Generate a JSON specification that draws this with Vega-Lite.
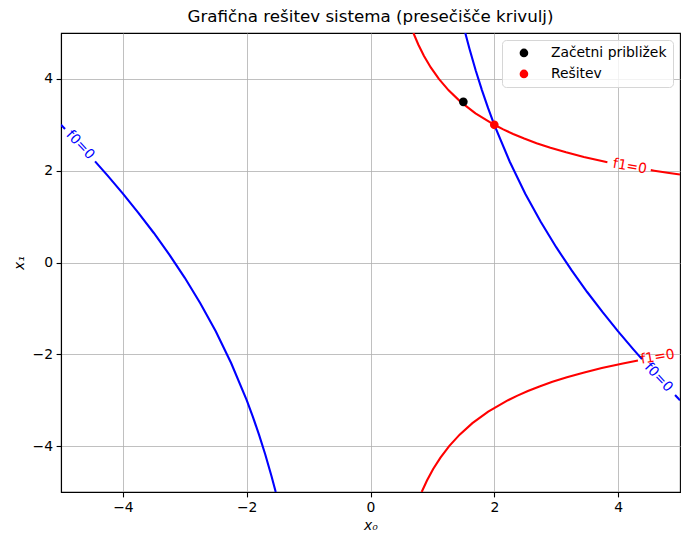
{
  "$schema": "https://vega.github.io/schema/vega-lite/v6.json",
  "width": 619,
  "height": 459,
  "autosize": {"type": "none"},
  "padding": {"left": 61, "top": 33, "right": 10, "bottom": 56},
  "background": "white",
  "config": {
    "font": "DejaVu Sans",
    "view": {"stroke": "black", "strokeWidth": 1.1},
    "axis": {
      "grid": true,
      "gridColor": "#b0b0b0",
      "gridWidth": 0.8,
      "domainColor": "black",
      "domainWidth": 1.1,
      "tickColor": "black",
      "tickWidth": 1.1,
      "tickSize": 4.9,
      "labelFont": "DejaVu Sans",
      "labelFontSize": 13.9,
      "labelColor": "black",
      "labelPadding": 3.5,
      "titleFont": "DejaVu Sans",
      "titleFontSize": 13.9,
      "titleFontWeight": "normal",
      "titleFontStyle": "italic",
      "titleColor": "black"
    }
  },
  "title": {
    "text": "Grafična rešitev sistema (presečišče krivulj)",
    "font": "DejaVu Sans",
    "fontSize": 16.7,
    "fontWeight": "normal",
    "color": "black",
    "offset": 7
  },
  "datasets": {
    "curves": [
      {"curve": "f0", "seg": "f0a1", "i": 0, "x0": -5, "x1": 3},
      {"curve": "f0", "seg": "f0a1", "i": 1, "x0": -4.935, "x1": 2.9087},
      {"curve": "f0", "seg": "f0a2", "i": 0, "x0": -4.45, "x1": 2.2028},
      {"curve": "f0", "seg": "f0a2", "i": 1, "x0": -4.25, "x1": 1.8971},
      {"curve": "f0", "seg": "f0a2", "i": 2, "x0": -4, "x1": 1.5},
      {"curve": "f0", "seg": "f0a2", "i": 3, "x0": -3.75, "x1": 1.0833},
      {"curve": "f0", "seg": "f0a2", "i": 4, "x0": -3.5, "x1": 0.6429},
      {"curve": "f0", "seg": "f0a2", "i": 5, "x0": -3.25, "x1": 0.1731},
      {"curve": "f0", "seg": "f0a2", "i": 6, "x0": -3, "x1": -0.3333},
      {"curve": "f0", "seg": "f0a2", "i": 7, "x0": -2.75, "x1": -0.8864},
      {"curve": "f0", "seg": "f0a2", "i": 8, "x0": -2.5, "x1": -1.5},
      {"curve": "f0", "seg": "f0a2", "i": 9, "x0": -2.25, "x1": -2.1944},
      {"curve": "f0", "seg": "f0a2", "i": 10, "x0": -2, "x1": -3},
      {"curve": "f0", "seg": "f0a2", "i": 11, "x0": -1.9, "x1": -3.3632},
      {"curve": "f0", "seg": "f0a2", "i": 12, "x0": -1.8, "x1": -3.7556},
      {"curve": "f0", "seg": "f0a2", "i": 13, "x0": -1.7, "x1": -4.1824},
      {"curve": "f0", "seg": "f0a2", "i": 14, "x0": -1.6, "x1": -4.65},
      {"curve": "f0", "seg": "f0a2", "i": 15, "x0": -1.531, "x1": -5.0},
      {"curve": "f0", "seg": "f0b1", "i": 0, "x0": 1.531, "x1": 5.0},
      {"curve": "f0", "seg": "f0b1", "i": 1, "x0": 1.6, "x1": 4.65},
      {"curve": "f0", "seg": "f0b1", "i": 2, "x0": 1.7, "x1": 4.1824},
      {"curve": "f0", "seg": "f0b1", "i": 3, "x0": 1.8, "x1": 3.7556},
      {"curve": "f0", "seg": "f0b1", "i": 4, "x0": 1.9, "x1": 3.3632},
      {"curve": "f0", "seg": "f0b1", "i": 5, "x0": 2, "x1": 3},
      {"curve": "f0", "seg": "f0b1", "i": 6, "x0": 2.25, "x1": 2.1944},
      {"curve": "f0", "seg": "f0b1", "i": 7, "x0": 2.5, "x1": 1.5},
      {"curve": "f0", "seg": "f0b1", "i": 8, "x0": 2.75, "x1": 0.8864},
      {"curve": "f0", "seg": "f0b1", "i": 9, "x0": 3, "x1": 0.3333},
      {"curve": "f0", "seg": "f0b1", "i": 10, "x0": 3.25, "x1": -0.1731},
      {"curve": "f0", "seg": "f0b1", "i": 11, "x0": 3.5, "x1": -0.6429},
      {"curve": "f0", "seg": "f0b1", "i": 12, "x0": 3.75, "x1": -1.0833},
      {"curve": "f0", "seg": "f0b1", "i": 13, "x0": 4, "x1": -1.5},
      {"curve": "f0", "seg": "f0b1", "i": 14, "x0": 4.25, "x1": -1.8971},
      {"curve": "f0", "seg": "f0b1", "i": 15, "x0": 4.386, "x1": -2.106},
      {"curve": "f0", "seg": "f0b2", "i": 0, "x0": 4.92, "x1": -2.8875},
      {"curve": "f0", "seg": "f0b2", "i": 1, "x0": 5, "x1": -3},
      {"curve": "f1", "seg": "f1a1", "i": 0, "x0": 0.6933, "x1": 5},
      {"curve": "f1", "seg": "f1a1", "i": 1, "x0": 0.7719, "x1": 4.75},
      {"curve": "f1", "seg": "f1a1", "i": 2, "x0": 0.8642, "x1": 4.5},
      {"curve": "f1", "seg": "f1a1", "i": 3, "x0": 0.9735, "x1": 4.25},
      {"curve": "f1", "seg": "f1a1", "i": 4, "x0": 1.1042, "x1": 4},
      {"curve": "f1", "seg": "f1a1", "i": 5, "x0": 1.2622, "x1": 3.75},
      {"curve": "f1", "seg": "f1a1", "i": 6, "x0": 1.4558, "x1": 3.5},
      {"curve": "f1", "seg": "f1a1", "i": 7, "x0": 1.6963, "x1": 3.25},
      {"curve": "f1", "seg": "f1a1", "i": 8, "x0": 2, "x1": 3},
      {"curve": "f1", "seg": "f1a1", "i": 9, "x0": 2.1443, "x1": 2.9},
      {"curve": "f1", "seg": "f1a1", "i": 10, "x0": 2.3044, "x1": 2.8},
      {"curve": "f1", "seg": "f1a1", "i": 11, "x0": 2.4829, "x1": 2.7},
      {"curve": "f1", "seg": "f1a1", "i": 12, "x0": 2.6824, "x1": 2.6},
      {"curve": "f1", "seg": "f1a1", "i": 13, "x0": 2.9067, "x1": 2.5},
      {"curve": "f1", "seg": "f1a1", "i": 14, "x0": 3.1597, "x1": 2.4},
      {"curve": "f1", "seg": "f1a1", "i": 15, "x0": 3.4468, "x1": 2.3},
      {"curve": "f1", "seg": "f1a1", "i": 16, "x0": 3.7741, "x1": 2.2},
      {"curve": "f1", "seg": "f1a1", "i": 17, "x0": 3.827, "x1": 2.185},
      {"curve": "f1", "seg": "f1a2", "i": 0, "x0": 4.528, "x1": 2.012},
      {"curve": "f1", "seg": "f1a2", "i": 1, "x0": 4.5833, "x1": 2.0},
      {"curve": "f1", "seg": "f1a2", "i": 2, "x0": 4.8258, "x1": 1.95},
      {"curve": "f1", "seg": "f1a2", "i": 3, "x0": 5.0, "x1": 1.916},
      {"curve": "f1", "seg": "f1b", "i": 0, "x0": 0.8267, "x1": -5},
      {"curve": "f1", "seg": "f1b", "i": 1, "x0": 0.9123, "x1": -4.75},
      {"curve": "f1", "seg": "f1b", "i": 2, "x0": 1.0123, "x1": -4.5},
      {"curve": "f1", "seg": "f1b", "i": 3, "x0": 1.1303, "x1": -4.25},
      {"curve": "f1", "seg": "f1b", "i": 4, "x0": 1.2708, "x1": -4},
      {"curve": "f1", "seg": "f1b", "i": 5, "x0": 1.44, "x1": -3.75},
      {"curve": "f1", "seg": "f1b", "i": 6, "x0": 1.6463, "x1": -3.5},
      {"curve": "f1", "seg": "f1b", "i": 7, "x0": 1.9014, "x1": -3.25},
      {"curve": "f1", "seg": "f1b", "i": 8, "x0": 2.2222, "x1": -3},
      {"curve": "f1", "seg": "f1b", "i": 9, "x0": 2.3742, "x1": -2.9},
      {"curve": "f1", "seg": "f1b", "i": 10, "x0": 2.5425, "x1": -2.8},
      {"curve": "f1", "seg": "f1b", "i": 11, "x0": 2.7298, "x1": -2.7},
      {"curve": "f1", "seg": "f1b", "i": 12, "x0": 2.9389, "x1": -2.6},
      {"curve": "f1", "seg": "f1b", "i": 13, "x0": 3.1733, "x1": -2.5},
      {"curve": "f1", "seg": "f1b", "i": 14, "x0": 3.4375, "x1": -2.4},
      {"curve": "f1", "seg": "f1b", "i": 15, "x0": 3.7366, "x1": -2.3},
      {"curve": "f1", "seg": "f1b", "i": 16, "x0": 4.0771, "x1": -2.2},
      {"curve": "f1", "seg": "f1b", "i": 17, "x0": 4.3205, "x1": -2.136}
    ],
    "labels": [
      {"curve": "f0", "pos": "a", "x0": -4.69, "x1": 2.558, "label": "f0=0"},
      {"curve": "f0", "pos": "b", "x0": 4.653, "x1": -2.504, "label": "f0=0"},
      {"curve": "f1", "pos": "a", "x0": 4.19, "x1": 2.09, "label": "f1=0"},
      {"curve": "f1", "pos": "b", "x0": 4.64, "x1": -2.06, "label": "f1=0"}
    ],
    "points": [
      {"name": "Začetni približek", "x0": 1.5, "x1": 3.5},
      {"name": "Rešitev", "x0": 2, "x1": 3}
    ]
  },
  "encoding": {
    "x": {
      "field": "x0",
      "type": "quantitative",
      "scale": {"domain": [-5, 5], "nice": false, "zero": false},
      "axis": {"values": [-4, -2, 0, 2, 4], "title": "x₀", "titlePadding": 4}
    },
    "y": {
      "field": "x1",
      "type": "quantitative",
      "scale": {"domain": [-5, 5], "nice": false, "zero": false},
      "axis": {"values": [-4, -2, 0, 2, 4], "title": "x₁", "titlePadding": 6}
    }
  },
  "layer": [
    {
      "data": {"name": "curves"},
      "mark": {"type": "line", "strokeWidth": 2.1, "clip": true},
      "encoding": {
        "color": {
          "field": "curve",
          "type": "nominal",
          "scale": {"domain": ["f0", "f1"], "range": ["blue", "red"]},
          "legend": null
        },
        "detail": {"field": "seg"},
        "order": {"field": "i", "type": "quantitative"}
      }
    },
    {
      "data": {"name": "labels"},
      "transform": [{"filter": "datum.curve == 'f0'"}],
      "mark": {"type": "text", "angle": 47, "align": "center", "baseline": "middle", "fontSize": 13.9, "font": "DejaVu Sans"},
      "encoding": {
        "text": {"field": "label"},
        "color": {"field": "curve", "type": "nominal", "scale": {"domain": ["f0", "f1"], "range": ["blue", "red"]}, "legend": null}
      }
    },
    {
      "data": {"name": "labels"},
      "transform": [{"filter": "datum.curve == 'f1' && datum.pos == 'a'"}],
      "mark": {"type": "text", "angle": 10, "align": "center", "baseline": "middle", "fontSize": 13.9, "font": "DejaVu Sans"},
      "encoding": {
        "text": {"field": "label"},
        "color": {"field": "curve", "type": "nominal", "scale": {"domain": ["f0", "f1"], "range": ["blue", "red"]}, "legend": null}
      }
    },
    {
      "data": {"name": "labels"},
      "transform": [{"filter": "datum.curve == 'f1' && datum.pos == 'b'"}],
      "mark": {"type": "text", "angle": -9.5, "align": "center", "baseline": "middle", "fontSize": 13.9, "font": "DejaVu Sans"},
      "encoding": {
        "text": {"field": "label"},
        "color": {"field": "curve", "type": "nominal", "scale": {"domain": ["f0", "f1"], "range": ["blue", "red"]}, "legend": null}
      }
    },
    {
      "data": {"name": "points"},
      "mark": {"type": "point", "shape": "circle", "filled": true, "size": 75, "opacity": 1},
      "encoding": {
        "fill": {
          "field": "name",
          "type": "nominal",
          "scale": {"domain": ["Začetni približek", "Rešitev"], "range": ["black", "red"]},
          "legend": {
            "title": null,
            "orient": "top-right",
            "offset": 7,
            "padding": 6,
            "strokeColor": "#d6d6d6",
            "fillColor": "rgba(255,255,255,0.8)",
            "cornerRadius": 4,
            "symbolType": "circle",
            "symbolSize": 75,
            "symbolStrokeWidth": 0,
            "symbolOffset": 9,
            "labelOffset": 20,
            "labelFont": "DejaVu Sans",
            "labelFontSize": 13.9,
            "labelColor": "black",
            "rowPadding": 6,
            "labelLimit": 300
          }
        }
      }
    }
  ],
  "resolve": {"scale": {"color": "independent"}}
}
